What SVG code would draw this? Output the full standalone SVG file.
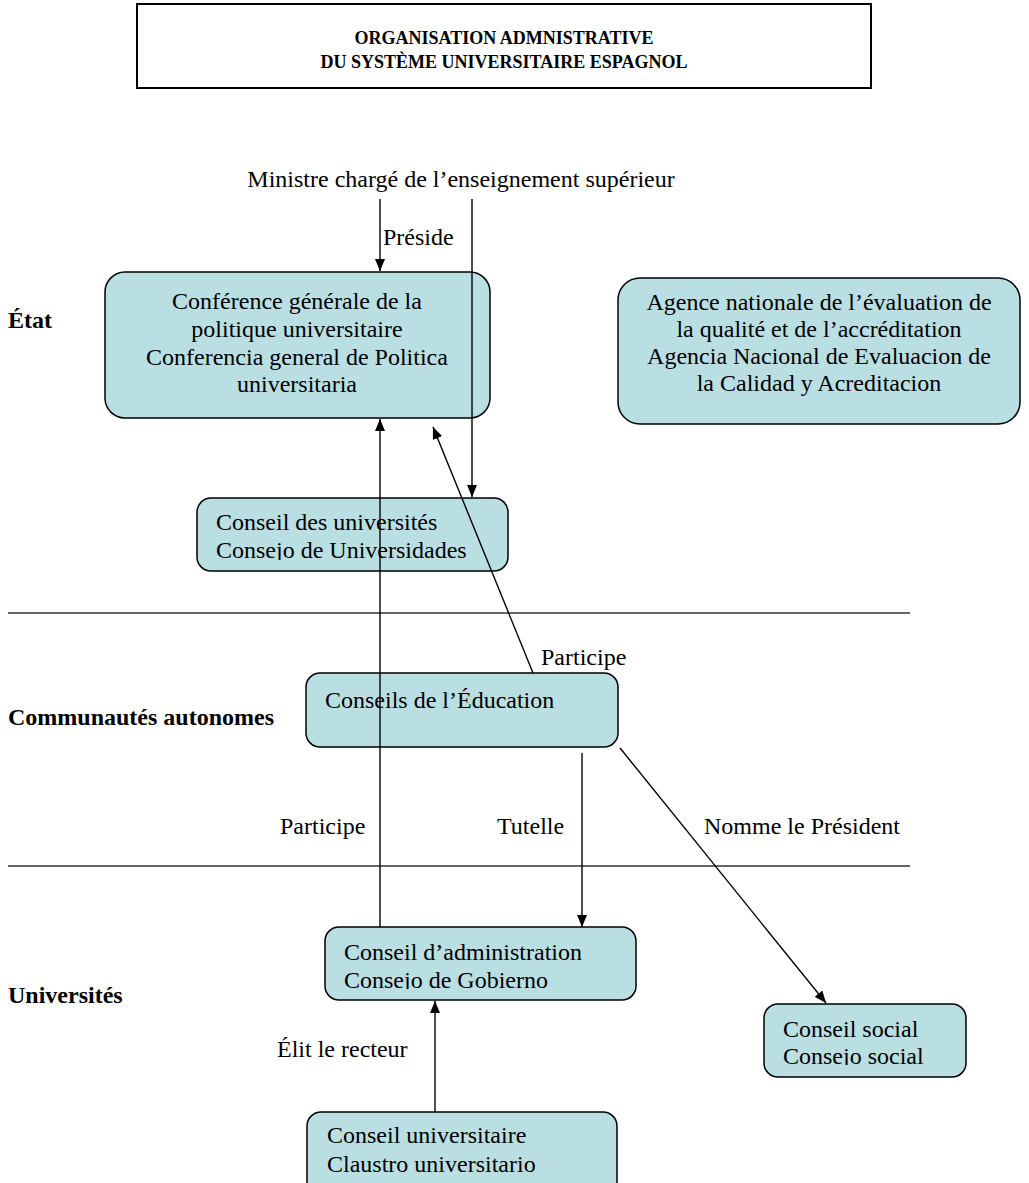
<svg xmlns="http://www.w3.org/2000/svg" width="1029" height="1183" viewBox="0 0 1029 1183">
<style>
.node{fill:#badfe3;stroke:#000;stroke-width:1.5}
.t{font-family:"Liberation Serif","Times New Roman",serif;font-size:24px;fill:#000}
.c{text-anchor:middle}
.b{font-family:"Liberation Serif","Times New Roman",serif;font-weight:bold;font-size:24px;fill:#000}
.title{font-family:"Liberation Serif","Times New Roman",serif;font-weight:bold;font-size:18px;fill:#000;text-anchor:middle}
.conn{stroke:#000;stroke-width:1.4;fill:none}
.arr{marker-end:url(#ah)}
.sep{stroke:#333;stroke-width:1.5}
</style>
<defs>
<marker id="ah" markerUnits="userSpaceOnUse" markerWidth="12" markerHeight="10" refX="12" refY="5" orient="auto">
<path d="M0,0 L12,5 L0,10 Z" fill="#000"/>
</marker>
<clipPath id="clipUniv"><rect x="197" y="498" width="311" height="62"/></clipPath>
<clipPath id="clipAdmin"><rect x="325" y="927" width="311" height="62"/></clipPath>
<clipPath id="clipSocial"><rect x="764" y="1004" width="202" height="61"/></clipPath>
</defs>
<rect width="1029" height="1183" fill="#fff"/>

<g id="title">
<rect x="137" y="4" width="734" height="84" fill="#fff" stroke="#000" stroke-width="2"/>
<text class="title" x="504" y="44">ORGANISATION ADMNISTRATIVE</text>
<text class="title" x="504" y="68">DU SYSTÈME UNIVERSITAIRE ESPAGNOL</text>
</g>

<g id="labels">
<text class="b" x="8" y="328">État</text>
<text class="b" x="8" y="725">Communautés autonomes</text>
<text class="b" x="8" y="1003">Universités</text>
</g>

<g id="separators">
<line class="sep" x1="8" y1="613" x2="910" y2="613"/>
<line class="sep" x1="8" y1="866" x2="910" y2="866"/>
</g>

<g id="ministre">
<text class="t c" x="461" y="187">Ministre chargé de l’enseignement supérieur</text>
</g>

<g id="conference">
<rect class="node" x="105" y="272" width="385" height="146" rx="20"/>
<text class="t c" x="297" y="309">Conférence générale de la</text>
<text class="t c" x="297" y="337">politique universitaire</text>
<text class="t c" x="297" y="365">Conferencia general de Politica</text>
<text class="t c" x="297" y="392">universitaria</text>
</g>

<g id="agence">
<rect class="node" x="618" y="278" width="402" height="146" rx="22"/>
<text class="t c" x="819" y="310">Agence nationale de l’évaluation de</text>
<text class="t c" x="819" y="337">la qualité et de l’accréditation</text>
<text class="t c" x="819" y="364">Agencia Nacional de Evaluacion de</text>
<text class="t c" x="819" y="391">la Calidad y Acreditacion</text>
</g>

<g id="conseil-universites">
<rect class="node" x="197" y="498" width="311" height="73" rx="14"/>
<g clip-path="url(#clipUniv)">
<text class="t" x="216" y="530">Conseil des universités</text>
<text class="t" x="216" y="558">Consejo de Universidades</text>
</g>
</g>

<g id="conseils-education">
<rect class="node" x="306" y="673" width="312" height="74" rx="14"/>
<text class="t" x="325" y="708">Conseils de l’Éducation</text>
</g>

<g id="conseil-administration">
<rect class="node" x="325" y="927" width="311" height="73" rx="14"/>
<g clip-path="url(#clipAdmin)">
<text class="t" x="344" y="960">Conseil d’administration</text>
<text class="t" x="344" y="988">Consejo de Gobierno</text>
</g>
</g>

<g id="conseil-social">
<rect class="node" x="764" y="1004" width="202" height="73" rx="14"/>
<g clip-path="url(#clipSocial)">
<text class="t" x="783" y="1037">Conseil social</text>
<text class="t" x="783" y="1064">Consejo social</text>
</g>
</g>

<g id="conseil-universitaire">
<rect class="node" x="307" y="1112" width="310" height="90" rx="14"/>
<text class="t" x="327" y="1143">Conseil universitaire</text>
<text class="t" x="327" y="1172">Claustro universitario</text>
</g>

<g id="connectors">
<line class="conn arr" x1="380" y1="199" x2="380" y2="271"/>
<line class="conn arr" x1="472" y1="199" x2="472" y2="497"/>
<line class="conn arr" x1="533" y1="673" x2="433" y2="427"/>
<line class="conn arr" x1="380" y1="927" x2="380" y2="419"/>
<line class="conn arr" x1="582" y1="753" x2="582" y2="927"/>
<line class="conn arr" x1="620" y1="748" x2="826" y2="1003"/>
<line class="conn arr" x1="435" y1="1112" x2="435" y2="1001"/>
</g>

<g id="connector-labels">
<text class="t" x="383" y="245">Préside</text>
<text class="t" x="541" y="665">Participe</text>
<text class="t" x="280" y="834">Participe</text>
<text class="t" x="497" y="834">Tutelle</text>
<text class="t" x="704" y="834">Nomme le Président</text>
<text class="t" x="277" y="1057">Élit le recteur</text>
</g>
</svg>
